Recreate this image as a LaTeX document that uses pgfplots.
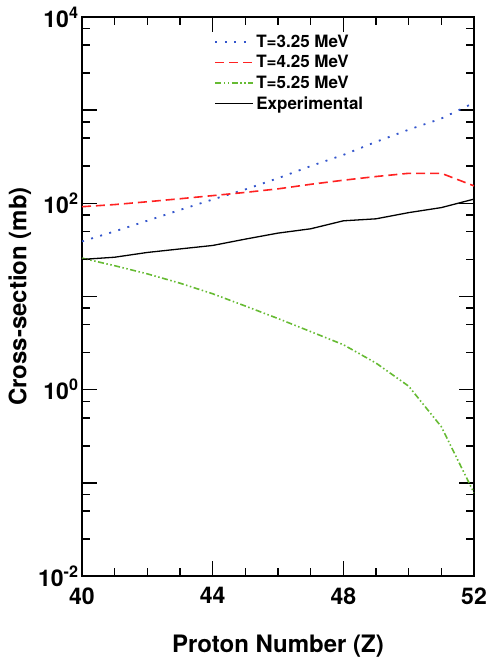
\documentclass[border=0pt]{standalone}
\usepackage{fontspec}
\setmainfont{TeX Gyre Heros}
\usepackage{pgfplots}
\pgfplotsset{compat=1.18}

\definecolor{tblue}{HTML}{3355CC}
\definecolor{tred}{HTML}{FF2222}
\definecolor{tgreen}{HTML}{66BB33}

\begin{document}
\begin{tikzpicture}
\begin{axis}[
    scale only axis,
    width=392pt, height=559pt,
    xmin=40, xmax=52,
    ymode=log, ymin=1e-2, ymax=1e4,
    xtick={40,44,48,52}, xticklabels={40,44,48,52},
    minor xtick={41,42,43,45,46,47,49,50,51},
    ytick={1e-2,1e-1,1,10,100,1000,1e4},
    yticklabels={10\textsuperscript{-2},,10\textsuperscript{0},,10\textsuperscript{2},,10\textsuperscript{4}},
    minor ytick={0.025,0.05,0.075,0.25,0.5,0.75,2.5,5,7.5,25,50,75,250,500,750,2500,5000,7500},
    tick align=inside,
    major tick length=15pt, minor tick length=8pt,
    tick style={line width=1.6pt, black},
    axis line style={line width=1.8pt},
    tick label style={font=\fontsize{23}{27}\selectfont\bfseries},
    xticklabel style={yshift=-8pt},
    label style={font=\fontsize{24}{29}\selectfont\bfseries},
    xlabel={Proton Number (Z)},
    xlabel style={yshift=-24pt},
    ylabel={Cross-section (mb)},
    legend style={at={(0.33,0.975)}, anchor=north west, draw=none, fill=none,
        font=\fontsize{17}{20}\selectfont\bfseries, row sep=2.5pt},
    legend cell align=left,
    legend image code/.code={\draw[#1] plot coordinates {(0pt,0pt) (38pt,0pt)};},
]
\coordinate (bl) at (rel axis cs:0,0);
\coordinate (tr) at (rel axis cs:1,1);

% T = 3.25 MeV
\addplot[tblue, line width=1.8pt, dash pattern=on 2pt off 7.5pt] coordinates {
    (40,39) (41,50) (42,65) (43,85) (44,110) (45,141) (46,186)
    (47,251) (48,331) (49,457) (50,617) (51,813) (52,1200)
};
\addlegendentry{T=3.25 MeV}

% T = 4.25 MeV
\addplot[tred, line width=1.6pt, dash pattern=on 9pt off 5pt] coordinates {
    (40,92) (41,97) (42,104) (43,112) (44,121) (45,131) (46,143)
    (47,160) (48,177) (49,194) (50,210) (51,210) (52,154)
};
\addlegendentry{T=4.25 MeV}

% T = 5.25 MeV
\addplot[tgreen, line width=1.6pt, dash pattern=on 6pt off 2.5pt on 1.5pt off 2.5pt on 1.5pt off 2.5pt] coordinates {
    (40,25.8) (41,21.4) (42,17.5) (43,13.9) (44,10.7) (45,7.9) (46,5.8)
    (47,4.2) (48,3.04) (49,1.93) (50,1.09) (51,0.40) (52,0.078)
};
\addlegendentry{T=5.25 MeV}

% experiment
\addplot[black, line width=1.3pt] coordinates {
    (40,25) (41,26.4) (42,29.7) (43,32.4) (44,35.3) (45,41.3) (46,47.9)
    (47,53.3) (48,64.9) (49,68.2) (50,79.5) (51,90) (52,111)
};
\addlegendentry{Experimental}
\end{axis}
\pgfresetboundingbox
\path ([shift={(-82pt,-81pt)}]bl) rectangle ([shift={(14pt,17pt)}]tr);
\end{tikzpicture}
\end{document}
